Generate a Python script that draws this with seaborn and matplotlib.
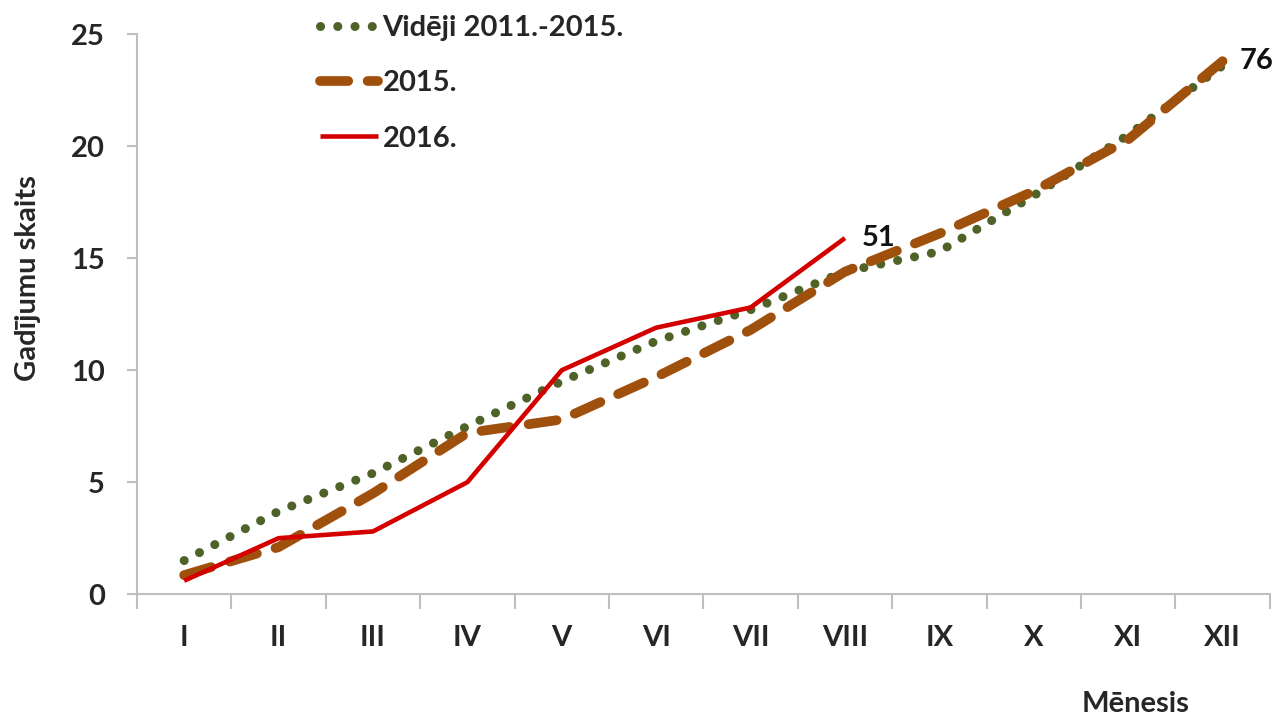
import numpy as np
import pandas as pd
import matplotlib
matplotlib.use('Agg')
import matplotlib.pyplot as plt
import seaborn as sns

months = ['I', 'II', 'III', 'IV', 'V', 'VI', 'VII', 'VIII', 'IX', 'X', 'XI', 'XII']
avg_2011_2015 = [1.5, 3.7, 5.4, 7.5, 9.5, 11.3, 12.7, 14.4, 15.3, 17.8, 20.5, 23.6]
y2015 = [0.85, 2.1, 4.5, 7.2, 7.8, 9.7, 11.8, 14.4, 16.1, 18.0, 20.3, 23.8]
y2016 = [0.6, 2.5, 2.8, 5.0, 10.0, 11.9, 12.8, 15.9]
labels = ['Vidēji 2011.-2015.', '2015.', '2016.']
end_labels = {'2016.': '51', '2015.': '76'}

sns.set_theme(style='white')
plt.rcParams['font.family'] = ['Lato', 'DejaVu Sans']
plt.rcParams['font.weight'] = 'bold'
FS = 21

df = pd.concat([
    pd.DataFrame({'pos': range(len(avg_2011_2015)), 'val': avg_2011_2015, 'series': labels[0]}),
    pd.DataFrame({'pos': range(len(y2015)), 'val': y2015, 'series': labels[1]}),
    pd.DataFrame({'pos': range(len(y2016)), 'val': y2016, 'series': labels[2]}),
])

fig = plt.figure(figsize=(12.8, 7.15), dpi=100)
ax = fig.add_axes([0.107, 0.169, 0.885, 0.783])

styles = {
    labels[0]: dict(color='#4f6228', lw=6.5, ls=(0, (0.01, 1.9)), cap='round'),
    labels[1]: dict(color='#a0500d', lw=7, ls=(0, (2.9, 2.0)), cap='round'),
    labels[2]: dict(color='#d40000', lw=3.3, ls='-', cap='butt'),
}

for name in labels:
    st = styles[name]
    sub = df[df.series == name]
    sns.lineplot(data=sub, x='pos', y='val', ax=ax, color=st['color'],
                 linewidth=st['lw'], linestyle=st['ls'], label=name)
    line = ax.lines[-1]
    line.set_dash_capstyle(st['cap'])
    line.set_solid_capstyle('butt')
    if name in end_labels:
        ax.annotate(end_labels[name], (sub.pos.iloc[-1], sub.val.iloc[-1]),
                    xytext=(12, 0), textcoords='offset points',
                    fontsize=FS, fontweight='bold', va='center', color='#111111')

ax.set_xlim(-0.5, 11.5)
ax.set_ylim(0, 25)
ax.set_xticks(np.arange(-0.5, 12, 1))
ax.set_xticklabels([])
ax.set_xticks(np.arange(12), minor=True)
ax.set_xticklabels(months, minor=True, fontsize=FS, fontweight='bold')
ax.tick_params(axis='x', which='major', direction='out', length=11, color='#bfbfbf', width=1.5, bottom=True)
ax.tick_params(axis='x', which='minor', length=0, pad=22)
ax.set_yticks([0, 5, 10, 15, 20, 25])
ax.set_yticklabels(['0', '5', '10', '15', '20', '25'], fontsize=FS, fontweight='bold')
ax.tick_params(axis='y', direction='out', length=7, color='#bfbfbf', width=1.5, left=True, pad=16)

for side in ['top', 'right']:
    ax.spines[side].set_visible(False)
for side in ['left', 'bottom']:
    ax.spines[side].set_color('#bfbfbf')
    ax.spines[side].set_linewidth(1.5)

ax.set_ylabel('Gadījumu skaits', fontsize=FS, fontweight='bold')
ax.yaxis.set_label_coords(-0.085, 0.564)
ax.set_xlabel('')
fig.text(0.887, 0.015, 'Mēnesis', fontsize=FS, fontweight='bold', ha='center', va='center')

leg = ax.legend(loc='upper left', bbox_to_anchor=(0.1615, 1.034), frameon=False, borderpad=0,
                borderaxespad=0, fontsize=FS, handlelength=2.0, labelspacing=1.0, handletextpad=0.15)
for t in leg.get_texts():
    t.set_fontweight('bold')

fig.savefig('out.png', dpi=100)
